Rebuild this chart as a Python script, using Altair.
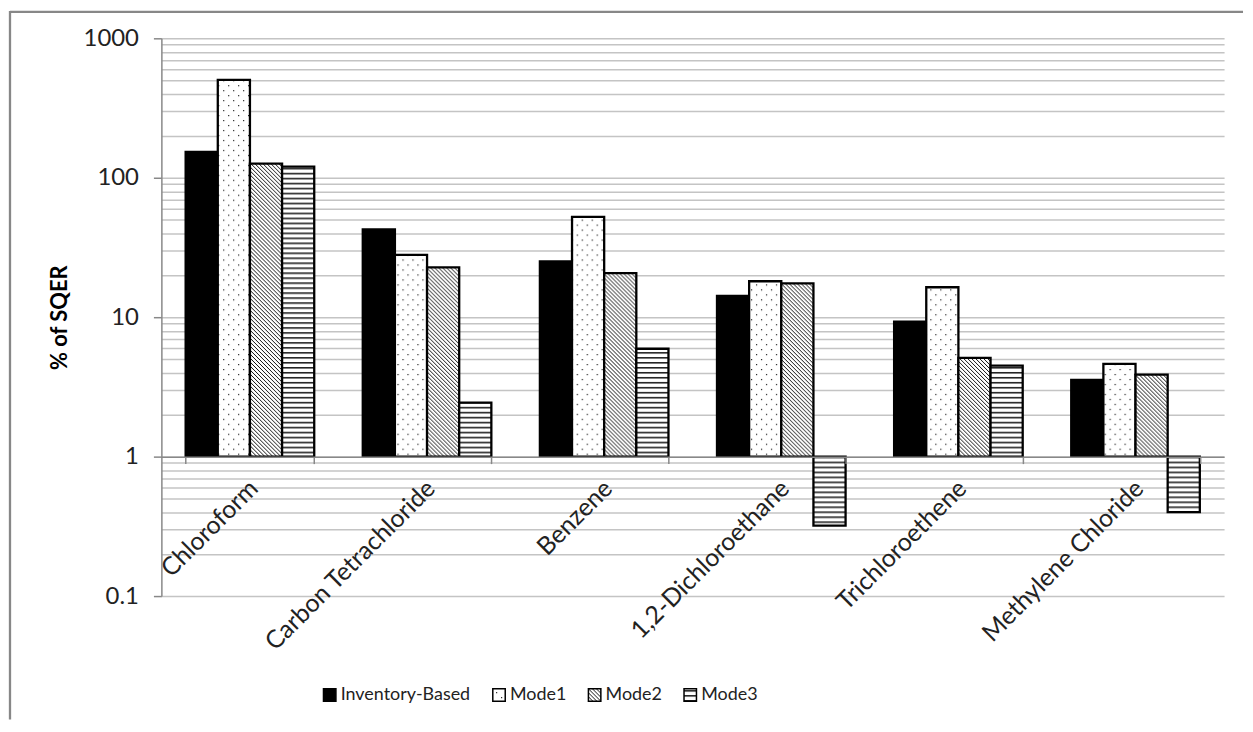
import altair as alt
import pandas as pd
import altair.utils.html as _ah

# ---------------- data ----------------
categories = ["Chloroform", "Carbon Tetrachloride", "Benzene",
              "1,2-Dichloroethane", "Trichloroethene", "Methylene Chloride"]
series = ["Inventory-Based", "Mode1", "Mode2", "Mode3"]
inventory_based = [153, 42.7, 25.1, 14.2, 9.3, 3.55]
mode1 = [504, 28, 52.4, 18.1, 16.4, 4.62]
mode2 = [126.5, 22.8, 20.7, 17.5, 5.1, 3.87]
mode3 = [120, 2.44, 5.94, 0.32, 4.49, 0.40]
y_major = [0.1, 1, 10, 100, 1000]
y_minor = [round(k * 10 ** d, 4) for d in range(-1, 3) for k in range(2, 10)]

values = {"Inventory-Based": inventory_based, "Mode1": mode1,
          "Mode2": mode2, "Mode3": mode3}
rows = []
for s in series:
    for c, v in zip(categories, values[s]):
        rows.append({"category": c, "series": s, "value": v})
df = pd.DataFrame(rows)

# ---------------- pattern fills (SVG defs added to the page) ----------------
PATTERN_DEFS = """<svg width="0" height="0" style="position:absolute;width:0;height:0;overflow:hidden">
<defs>
<pattern id="pDots" patternUnits="userSpaceOnUse" width="10" height="10">
<rect width="10" height="10" fill="white"/>
<rect x="2" y="2" width="1.2" height="1.2" fill="#222"/>
<rect x="7" y="7" width="1.2" height="1.2" fill="#222"/>
</pattern>
<pattern id="pDiag" patternUnits="userSpaceOnUse" width="4" height="4">
<rect width="4" height="4" fill="white"/>
<path d="M-1,-1 L5,5 M-1,3 L1,5 M3,-1 L5,1" stroke="#111" stroke-width="1.0"/>
</pattern>
<pattern id="pHoriz" patternUnits="userSpaceOnUse" width="10" height="5">
<rect width="10" height="5" fill="white"/>
<rect y="0" width="10" height="1.6" fill="#222"/>
</pattern>
</defs>
</svg>"""

try:
    _std = _ah.TEMPLATES["standard"]

    class _WithPatterns:
        def render(self, **kw):
            html = _std.render(**kw)
            if "<body>" in html:
                return html.replace("<body>", "<body>\n" + PATTERN_DEFS, 1)
            return PATTERN_DEFS + html

    _ah.TEMPLATES["standard"] = _WithPatterns()
except Exception:
    pass

fills = ["black", "url(#pDots)", "url(#pDiag)", "url(#pHoriz)"]

FONT = "Lato"
major_test = "indexof([0.1, 1, 10, 100, 1000], datum.value) >= 0"

bars = alt.Chart(df).mark_bar(stroke="black", strokeWidth=2.3).encode(
    x=alt.X("category:N", sort=categories,
            scale=alt.Scale(paddingInner=0.274, paddingOuter=0.137),
            axis=alt.Axis(title=None, labelAngle=-45, labelAlign="right",
                          labelBaseline="top", labelFont=FONT, labelFontSize=25,
                          labelColor="#222", labelPadding=12, labelOffset=-5,
                          labelLimit=400,
                          domainColor="#888", domainWidth=1.5,
                          tickColor="#888", tickWidth=1.5, tickSize=7,
                          tickBand="extent", grid=False, offset=-140,
                          labelOverlap=False, zindex=1)),
    xOffset=alt.XOffset("series:N", sort=series,
                        scale=alt.Scale(paddingInner=0, paddingOuter=0)),
    y=alt.Y("value:Q",
            scale=alt.Scale(type="log", domain=[0.1, 1000]),
            axis=alt.Axis(title="% of SQER", values=y_major + y_minor,
                          labelExpr=major_test + " ? '' + datum.value : ''",
                          labelFont=FONT, labelFontSize=24, labelColor="#222",
                          labelPadding=15, labelOverlap=False,
                          tickSize=8, tickColor="#888", tickWidth=1.5,
                          tickOpacity={"condition": {"test": major_test, "value": 1}, "value": 0},
                          domainColor="#888", domainWidth=1.5,
                          grid=True, gridColor="#c4c4c4", gridWidth=1.5,
                          titleFont=FONT, titleFontSize=22, titleFontWeight="bold",
                          titleColor="black", titlePadding=12)),
    y2=alt.datum(1),
    fill=alt.Fill("series:N", sort=series,
                  scale=alt.Scale(domain=series, range=fills),
                  legend=alt.Legend(title=None, orient="none", direction="horizontal",
                                    legendX=160, legendY=650,
                                    symbolType="square", symbolSize=156,
                                    symbolStrokeColor="black", symbolStrokeWidth=1.5,
                                    labelFont=FONT, labelFontSize=18, labelColor="#222",
                                    labelOffset=2, columnPadding=18, padding=0)),
)

frame_df = pd.DataFrame({"f": [0]})
frame_top = alt.Chart(frame_df).mark_rule(color="#878787", strokeWidth=2.3).encode(
    x=alt.value(-152), x2=alt.value(1086), y=alt.value(-26.5))
frame_left = alt.Chart(frame_df).mark_rule(color="#878787", strokeWidth=2.3).encode(
    x=alt.value(-152), y=alt.value(-27.5), y2=alt.value(684))

chart = alt.layer(bars, frame_top, frame_left).properties(
    width=1067, height=560, padding=0
).configure_view(strokeWidth=0)

chart.save("out.html", embed_options={"renderer": "svg", "actions": False})
